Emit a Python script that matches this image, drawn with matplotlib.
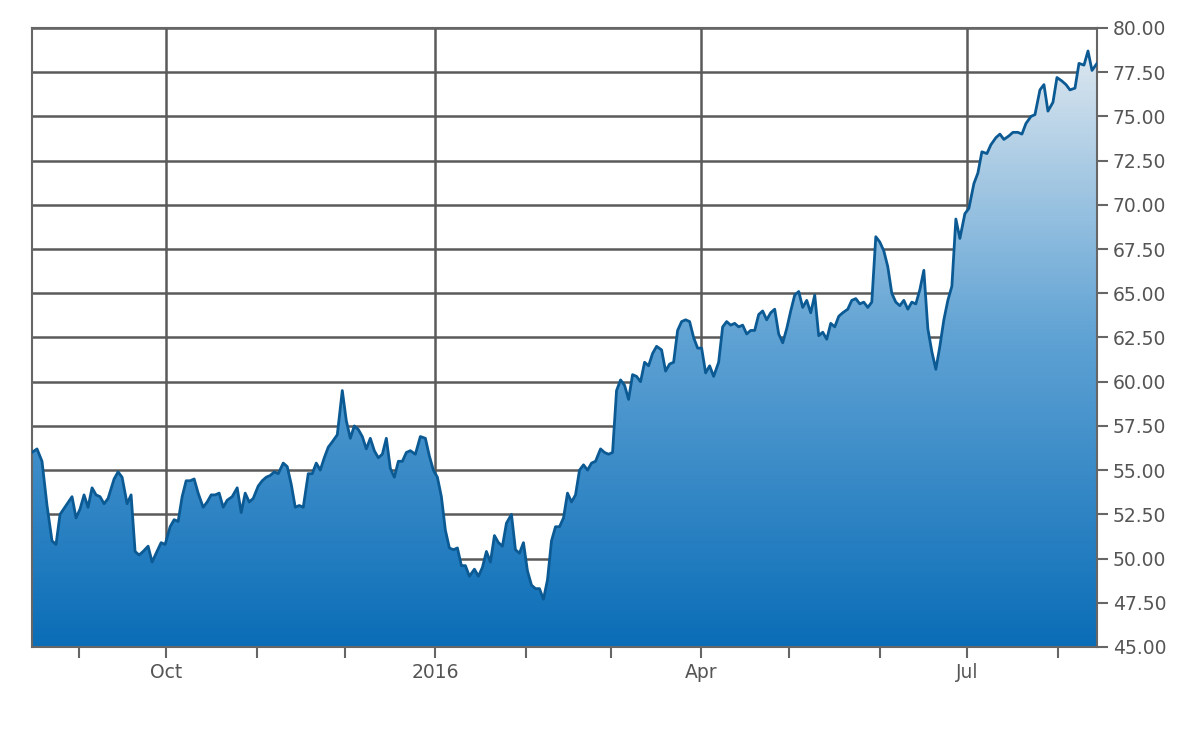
import matplotlib
matplotlib.use("Agg")
import matplotlib.pyplot as plt
import matplotlib.dates as mdates
import numpy as np
import pandas as pd

start = pd.Timestamp("2015-08-16")
px_per_day = 2.92
# positions (pixel-based reading, converted to days)
xpos = [32,37,42,47,52,56,60,66,72,76,80,84,88,92,96,100,104,108,114,118,122,127,131,135,139,143,148,152,156,161,165,170,174,178,182,186,190,194,198,203,207,211,215,219,223,227,232,237,241,245,249,253,258,262,266,270,274,278,283,287,291,295,299,303,308,312,316,320,324,328,332,337,342,346,350,354,358,362,366,370,374,378,382,386,390,394,398,402,406,410,415,420,425,429,433,437,441,445,449,453,457,461,465,469,474,478,482,486,490,494,498,502,506,511,515,519,523,527,531,535,539,543,547,551,555,559,563,567,571,575,579,583,587,591,595,600,604,608,612,616,620,624,628,632,636,640,644,648,652,656,661,665,669,673,677,681,685,689,693,697,701,705,709,713,718,722,726,730,734,738,742,746,750,754,758,762,766,770,774,778,782,786,790,794,798,802,806,810,814,818,822,826,830,834,838,842,847,851,855,859,863,867,871,875,879,883,887,891,895,899,903,907,911,915,919,923,927,931,935,939,943,947,951,
        955,959,964,968,973,977,981,986,990,995,999,1003,1008,1012,1017,1021,1025,1030,1034,1039,1043,1047,1052,1056,1061,1065,1069,1074,1078,1083,1087,1091,1096]
values = [56.0,56.2,55.5,53,51,50.8,52.5,53,53.5,52.3,52.8,53.6,52.9,54,53.6,53.5,53.1,53.4,54.5,54.9,54.6,53.1,53.6,50.4,50.2,50.4,50.7,49.8,50.3,50.9,50.8,51.8,52.2,52.1,53.5,54.4,54.4,54.5,53.7,52.9,53.2,53.6,53.6,53.7,52.9,53.3,53.5,54,52.6,53.7,53.2,53.4,54.1,54.4,54.6,54.7,54.9,54.8,55.4,55.2,54.2,52.9,53,52.9,54.8,54.8,55.4,55,55.7,56.3,56.6,57,59.5,57.8,56.8,57.5,57.3,56.9,56.2,56.8,56.1,55.7,55.9,56.8,55.1,54.6,55.5,55.5,56,56.1,55.9,56.9,56.8,55.8,55,54.6,53.5,51.6,50.6,50.5,50.6,49.6,49.6,49,49.4,49,49.5,50.4,49.8,51.3,50.9,50.7,52,52.5,50.5,50.3,50.9,49.3,48.5,48.3,48.3,47.7,48.8,51,51.8,51.8,52.3,53.7,53.2,53.6,55,55.3,55,55.4,55.5,56.2,56,55.9,56.0,59.5,60.1,59.8,59,60.4,60.3,60,61.1,60.9,61.6,62,61.8,60.6,61,61.1,62.9,63.4,63.5,63.4,62.5,61.9,61.9,60.5,60.9,60.3,61.1,63.1,63.4,63.2,63.3,63.1,63.2,62.7,62.9,62.9,63.8,64,63.5,63.9,64.1,62.7,62.2,63,64,64.9,65.1,64.2,64.6,63.9,64.9,62.6,62.8,62.4,63.3,63.1,63.7,63.9,64.1,64.6,64.7,64.4,64.5,64.2,64.5,68.2,67.9,67.4,66.5,65,64.5,64.3,64.6,64.1,64.5,64.4,65.2,66.3,63,61.7,60.7,62,63.5,64.6,65.4,
          69.2,68.1,69.5,69.8,71.2,71.8,73,72.9,73.4,73.8,74,73.7,73.9,74.1,74.1,74,74.6,75,75.1,76.5,76.8,75.3,75.8,77.2,77,76.8,76.5,76.6,78,77.9,78.7,77.6,78]
dates = [start + pd.Timedelta(days=(p - 32) / px_per_day) for p in xpos]
yticks = np.arange(45, 80.01, 2.5)

fig = plt.figure(figsize=(11.81, 7.29), dpi=100)
ax = fig.add_axes([32/1181, 1-647/729, (1097-32)/1181, (647-28)/729])
xd = mdates.date2num(dates)
ax.set_xlim(xd[0], xd[-1])
ax.set_ylim(45, 80)

grad = np.linspace(0, 1, 256).reshape(-1, 1)
cmap = matplotlib.colors.LinearSegmentedColormap.from_list("g", ["#0a6db7", "#5fa2d4", "#e6ecf1"])
im = ax.imshow(grad, cmap=cmap, aspect="auto", origin="lower",
               extent=[xd[0], xd[-1], 45, 80], zorder=1)
poly = ax.fill_between(xd, values, 45, color="none")
clip = matplotlib.patches.PathPatch(poly.get_paths()[0], transform=ax.transData, facecolor="none", edgecolor="none")
ax.add_patch(clip)
im.set_clip_path(clip)
ax.plot(xd, values, color="#0b5a94", lw=2, zorder=3)

ax.set_yticks(yticks)
ax.set_yticklabels([f"{v:.2f}" for v in yticks])
ax.yaxis.tick_right()
major = [pd.Timestamp(d) for d in ["2015-10-01", "2016-01-01", "2016-04-01", "2016-07-01"]]
ax.set_xticks(mdates.date2num(major))
ax.set_xticklabels(["Oct", "2016", "Apr", "Jul"])
minor = pd.date_range("2015-09-01", "2016-08-01", freq="MS")
ax.set_xticks(mdates.date2num(minor), minor=True)
ax.grid(True, which="major", color="#5a5a5a", lw=1.8, zorder=0)
ax.set_axisbelow(True)
ax.tick_params(axis="both", which="both", colors="#666666", labelcolor="#555555", labelsize=13.5, length=8, width=1.5)
for s in ax.spines.values():
    s.set_color("#666666"); s.set_linewidth(1.5)
fig.savefig("out.png", dpi=100)
